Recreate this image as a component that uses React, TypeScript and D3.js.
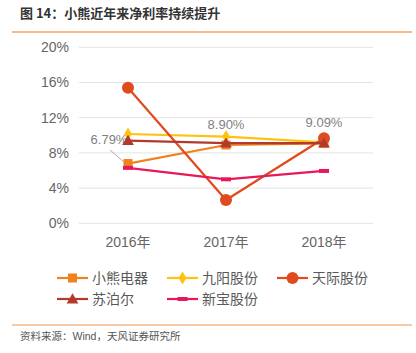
import React from "react";
import * as d3 from "d3";

const years = ["2016年", "2017年", "2018年"];
const yTicks = [0, 4, 8, 12, 16, 20];

const xiaoxiong = [6.79, 8.9, 9.09];
const jiuyang = [10.15, 9.85, 9.2];
const tianji = [15.4, 2.65, 9.66];
const supor = [9.4, 9.1, 9.1];
const xinbao = [6.3, 5.0, 5.95];

const series = [
  { name: "小熊电器", values: xiaoxiong, color: "#F0821E", marker: "square" },
  { name: "九阳股份", values: jiuyang, color: "#FFC20E", marker: "diamond" },
  { name: "天际股份", values: tianji, color: "#E04A1F", marker: "circle" },
  { name: "苏泊尔", values: supor, color: "#B23A2C", marker: "triangle" },
  { name: "新宝股份", values: xinbao, color: "#E6195A", marker: "dash" },
];

const labels = ["6.79%", "8.90%", "9.09%"];

const font = "'Liberation Sans', 'Noto Sans CJK SC', sans-serif";

function Marker({ type, x, y, color }: { type: string; x: number; y: number; color: string }) {
  if (type === "square") return <rect x={x - 4.5} y={y - 4.5} width={9} height={9} fill={color} />;
  if (type === "diamond")
    return <path d={d3.symbol(d3.symbolDiamond, 50)()!} transform={`translate(${x},${y})`} fill={color} />;
  if (type === "circle") return <circle cx={x} cy={y} r={6} fill={color} />;
  if (type === "triangle")
    return <path d={d3.symbol(d3.symbolTriangle, 60)()!} transform={`translate(${x},${y + 1})`} fill={color} />;
  return <rect x={x - 5} y={y - 2} width={10} height={4} fill={color} />;
}

export default function App() {
  const x = d3.scaleBand().domain(years).range([79, 373]);
  const y = d3.scaleLinear().domain([0, 20]).range([223.3, 47.3]);
  const cx = (i: number) => x(years[i])! + x.bandwidth() / 2;
  const line = d3
    .line<number>()
    .x((_, i) => cx(i))
    .y((d) => y(d));

  const legendPos = [
    [57, 278],
    [167, 278],
    [277, 278],
    [57, 299],
    [167, 299],
  ];

  return (
    <svg
      width={416}
      height={353}
      style={{ position: "absolute", left: 0, top: 0, background: "#fff" }}
      fontFamily={font}
    >
      <text x={20} y={18} fontSize={13} fill="#333" fontWeight="bold" fontFamily="'Noto Sans CJK SC', sans-serif">
        图 14：小熊近年来净利率持续提升
      </text>
      <line x1={12} x2={412} y1={32} y2={32} stroke="#F5B98A" strokeWidth={2} />

      {yTicks.map((t) => (
        <g key={t}>
          <line x1={79} x2={373} y1={y(t)} y2={y(t)} stroke="#E3E3E3" strokeWidth={1} />
          <text x={69} y={y(t)} dy="0.35em" textAnchor="end" fontSize={14} fill="#666">
            {t}%
          </text>
        </g>
      ))}
      {years.map((yr, i) => (
        <text key={yr} x={cx(i)} y={247} textAnchor="middle" fontSize={14} fill="#666">
          {yr}
        </text>
      ))}

      <line x1={110} y1={150} x2={124} y2={162} stroke="#B0B0B0" strokeWidth={1} />
      <text x={109} y={139} textAnchor="middle" dy="0.35em" fontSize={13} fill="#7F7F7F">
        {labels[0]}
      </text>
      <text x={cx(1)} y={124} textAnchor="middle" dy="0.35em" fontSize={13} fill="#7F7F7F">
        {labels[1]}
      </text>
      <text x={cx(2)} y={122} textAnchor="middle" dy="0.35em" fontSize={13} fill="#7F7F7F">
        {labels[2]}
      </text>

      {series.map((s) => (
        <g key={s.name}>
          <path d={line(s.values)!} fill="none" stroke={s.color} strokeWidth={2.2} />
          {s.values.map((v, i) => (
            <Marker key={i} type={s.marker} x={cx(i)} y={y(v)} color={s.color} />
          ))}
        </g>
      ))}

      {series.map((s, i) => {
        const [lx, ly] = legendPos[i];
        return (
          <g key={s.name}>
            <line x1={lx} x2={lx + 31} y1={ly} y2={ly} stroke={s.color} strokeWidth={2.2} />
            <Marker type={s.marker} x={lx + 15.5} y={ly} color={s.color} />
            <text x={lx + 35} y={ly} dy="0.35em" fontSize={14} fill="#595959">
              {s.name}
            </text>
          </g>
        );
      })}

      <line x1={12} x2={412} y1={325} y2={325} stroke="#F5B98A" strokeWidth={1.5} />
      <text x={20} y={340} fontSize={10.5} fill="#555">
        资料来源：Wind，天风证券研究所
      </text>
    </svg>
  );
}
